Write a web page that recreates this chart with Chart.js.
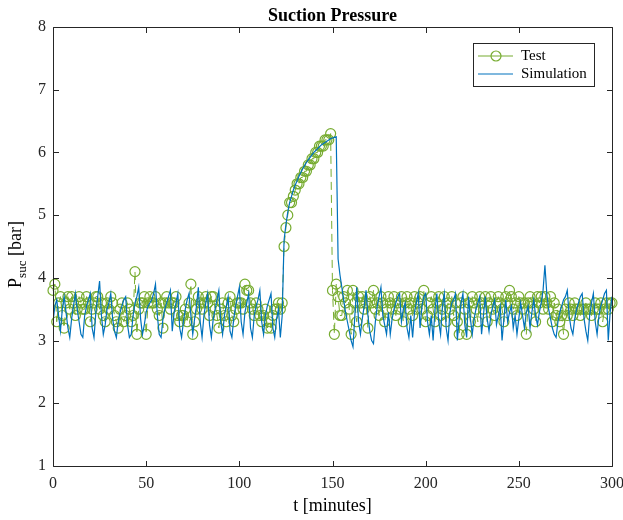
<!DOCTYPE html>
<html><head><meta charset="utf-8">
<script src="https://cdn.jsdelivr.net/npm/chart.js@4/dist/chart.umd.min.js"></script>
<style>html,body{margin:0;padding:0;background:#fff;overflow:hidden}</style>
</head><body>
<canvas id="c" width="623" height="520" style="display:block;width:623px;height:520px"></canvas>
<script>
const titleText = 'Suction Pressure';
const xTitle = 't [minutes]';
const yTitleMain = 'P';
const yTitleSub = 'suc';
const yTitleUnit = ' [bar]';
const seriesNames = ['Test', 'Simulation'];
const xTicks = [0, 50, 100, 150, 200, 250, 300];
const yTicks = [1, 2, 3, 4, 5, 6, 7, 8];
const sampleStepMinutes = 1;

const testValues = [
3.8,3.9,3.3,3.6,3.7,3.4,3.2,3.6,3.7,3.5,
3.7,3.6,3.4,3.5,3.7,3.6,3.5,3.5,3.7,3.6,
3.3,3.5,3.6,3.7,3.7,3.5,3.6,3.4,3.3,3.6,
3.5,3.7,3.6,3.4,3.3,3.2,3.5,3.6,3.3,3.4,
3.6,3.5,3.3,3.4,4.1,3.1,3.5,3.6,3.6,3.7,
3.1,3.6,3.7,3.6,3.6,3.7,3.5,3.4,3.6,3.2,
3.6,3.7,3.6,3.5,3.6,3.6,3.7,3.4,3.3,3.4,
3.4,3.5,3.3,3.6,3.9,3.1,3.3,3.5,3.7,3.6,
3.5,3.6,3.7,3.6,3.4,3.7,3.7,3.5,3.4,3.2,
3.5,3.6,3.4,3.3,3.6,3.7,3.4,3.3,3.5,3.6,
3.6,3.6,3.5,3.9,3.8,3.8,3.6,3.5,3.4,3.6,
3.5,3.4,3.3,3.4,3.5,3.2,3.3,3.2,3.4,3.5,
3.5,3.6,3.5,3.6,4.5,4.8,5.0,5.2,5.2,5.3,
5.4,5.5,5.5,5.6,5.6,5.7,5.7,5.8,5.8,5.9,
5.9,6.0,6.0,6.1,6.1,6.1,6.2,6.2,6.2,6.3,
3.8,3.1,3.9,3.7,3.4,3.4,3.7,3.6,3.8,3.5,
3.1,3.8,3.6,3.3,3.7,3.6,3.7,3.5,3.6,3.2,
3.7,3.6,3.8,3.5,3.6,3.4,3.7,3.6,3.3,3.5,
3.7,3.6,3.5,3.7,3.4,3.6,3.5,3.7,3.3,3.6,
3.7,3.5,3.6,3.4,3.7,3.5,3.6,3.7,3.5,3.8,
3.3,3.4,3.6,3.7,3.5,3.3,3.6,3.7,3.4,3.5,
3.7,3.3,3.6,3.5,3.7,3.4,3.6,3.3,3.1,3.6,
3.7,3.5,3.1,3.6,3.3,3.7,3.6,3.5,3.3,3.7,
3.6,3.5,3.7,3.3,3.6,3.7,3.5,3.4,3.6,3.7,
3.6,3.5,3.3,3.7,3.6,3.8,3.7,3.5,3.6,3.4,
3.7,3.6,3.5,3.6,3.1,3.6,3.7,3.6,3.5,3.3,
3.7,3.6,3.7,3.5,3.7,3.6,3.5,3.7,3.3,3.6,
3.4,3.5,3.3,3.4,3.1,3.5,3.4,3.6,3.5,3.4,
3.6,3.5,3.5,3.4,3.5,3.5,3.6,3.5,3.5,3.4,
3.5,3.6,3.5,3.5,3.6,3.3,3.5,3.6,3.5,3.6,
3.6
];

const simValues = [
3.30,3.55,3.65,3.40,3.15,3.50,3.70,3.45,3.20,3.05,
3.35,3.55,3.75,3.50,3.30,3.10,3.05,3.40,3.55,3.65,
3.75,3.20,3.05,3.45,3.70,3.95,3.40,3.10,3.25,3.50,
3.60,3.75,3.35,3.15,3.05,3.30,3.45,3.55,3.65,3.70,
3.25,3.05,3.10,3.40,3.60,3.70,3.85,3.35,3.10,3.25,
3.45,3.55,3.60,3.65,3.75,3.90,3.40,3.10,3.05,3.35,
3.50,3.60,3.70,3.80,3.15,3.45,3.60,3.75,3.20,3.05,
3.30,3.50,3.65,3.75,3.40,3.10,3.35,3.55,3.85,3.30,
3.05,3.40,3.60,3.75,3.25,3.05,3.35,3.50,3.65,3.80,
3.30,3.10,3.40,3.55,3.70,3.15,3.05,3.35,3.55,3.70,
3.85,3.30,3.10,3.45,3.60,3.75,3.20,3.05,3.40,3.55,
3.65,3.80,3.30,3.10,3.40,3.55,3.65,3.75,3.20,3.05,
3.35,3.50,3.05,3.40,4.60,4.85,5.05,5.20,5.30,5.40,
5.48,5.55,5.62,5.68,5.74,5.79,5.84,5.88,5.92,5.96,
6.00,6.03,6.06,6.09,6.12,6.14,6.16,6.18,6.20,6.22,
6.23,6.24,6.25,4.30,4.05,3.85,3.65,3.45,3.30,3.15,
3.00,2.90,3.40,3.85,3.30,3.10,3.35,3.55,3.80,3.40,
3.15,3.00,2.95,3.30,3.55,3.70,3.85,3.40,3.25,3.10,
3.45,3.10,3.35,3.50,3.60,3.70,3.75,3.30,3.50,3.60,
3.20,3.05,3.40,3.05,3.45,3.60,3.75,3.20,3.55,3.70,
3.75,3.30,3.10,3.40,3.00,3.50,3.75,3.30,3.10,3.55,
3.75,3.20,3.00,3.45,3.60,3.65,3.75,3.00,3.35,3.60,
3.75,3.25,3.05,3.70,3.35,3.10,3.35,3.50,3.60,3.70,
3.10,3.40,3.70,3.35,3.15,3.40,3.55,3.65,3.25,3.40,
3.55,3.00,3.35,3.65,3.30,3.45,3.55,3.20,3.40,3.10,
3.35,3.60,3.40,3.20,3.45,3.55,3.20,3.45,3.65,3.40,
3.25,3.45,3.60,3.80,4.20,3.75,3.50,3.35,3.20,3.10,
3.05,3.30,3.45,3.55,3.65,3.70,3.80,3.40,3.20,3.10,
3.35,3.50,3.60,3.70,3.75,3.35,3.15,3.00,3.40,3.60,
3.75,3.30,3.10,3.40,3.55,3.65,3.75,3.80,3.00,3.45,
3.70
];

const GREEN = '#77AC30';
const BLUE = '#0072BD';
const AXIS = '#262626';
const SERIF = '"Liberation Serif", "Times New Roman", serif';

const toPoints = arr => arr.map((v, i) => ({ x: i * sampleStepMinutes, y: v }));

const frame = {
  id: 'frame',
  afterDatasetsDraw(chart) {
    const { ctx, chartArea: a, scales: { x, y } } = chart;
    ctx.save();
    ctx.strokeStyle = AXIS;
    ctx.lineWidth = 1;
    const L = Math.round(a.left) + 0.5, R = Math.round(a.right) + 0.5;
    const T = Math.round(a.top) + 0.5, B = Math.round(a.bottom) + 0.5;
    ctx.beginPath();
    ctx.rect(L, T, R - L, B - T);
    const tl = 5.5;
    xTicks.forEach(v => {
      const px = Math.round(x.getPixelForValue(v)) + 0.5;
      ctx.moveTo(px, B); ctx.lineTo(px, B - tl);
      ctx.moveTo(px, T); ctx.lineTo(px, T + tl);
    });
    yTicks.forEach(v => {
      const py = Math.round(y.getPixelForValue(v)) + 0.5;
      ctx.moveTo(L, py); ctx.lineTo(L + tl, py);
      ctx.moveTo(R, py); ctx.lineTo(R - tl, py);
    });
    ctx.stroke();

    // y axis title with subscript
    ctx.fillStyle = '#000';
    ctx.translate(21, (a.top + a.bottom) / 2 + 8);
    ctx.rotate(-Math.PI / 2);
    ctx.textBaseline = 'alphabetic';
    const f1 = '18px ' + SERIF, f2 = '13px ' + SERIF;
    ctx.font = f1; const w1 = ctx.measureText(yTitleMain).width;
    ctx.font = f2; const w2 = ctx.measureText(yTitleSub).width;
    ctx.font = f1; const w3 = ctx.measureText(yTitleUnit).width;
    let sx = -(w1 + w2 + w3) / 2;
    ctx.font = f1; ctx.fillText(yTitleMain, sx, 0); sx += w1;
    ctx.font = f2; ctx.fillText(yTitleSub, sx, 5); sx += w2;
    ctx.font = f1; ctx.fillText(yTitleUnit, sx, 0);
    ctx.restore();

    // legend
    ctx.save();
    const bx = 473.5, by = 43.5, bw = 121, bh = 43;
    ctx.fillStyle = '#fff';
    ctx.fillRect(bx, by, bw, bh);
    ctx.strokeStyle = AXIS;
    ctx.lineWidth = 1;
    ctx.strokeRect(bx, by, bw, bh);
    ctx.lineWidth = 1.2;
    ctx.strokeStyle = GREEN;
    ctx.beginPath(); ctx.moveTo(478, 56); ctx.lineTo(513, 56); ctx.stroke();
    ctx.beginPath(); ctx.arc(496, 56, 5, 0, Math.PI * 2); ctx.stroke();
    ctx.strokeStyle = BLUE;
    ctx.beginPath(); ctx.moveTo(478, 74); ctx.lineTo(513, 74); ctx.stroke();
    ctx.fillStyle = '#000';
    ctx.font = '15px ' + SERIF;
    ctx.textBaseline = 'middle';
    ctx.fillText(seriesNames[0], 521, 56);
    ctx.fillText(seriesNames[1], 521, 74);
    ctx.restore();
  }
};

new Chart(document.getElementById('c'), {
  type: 'line',
  data: {
    datasets: [
      {
        label: seriesNames[0],
        data: toPoints(testValues),
        borderColor: GREEN,
        borderWidth: 1,
        borderDash: [8, 5],
        pointStyle: 'circle',
        pointRadius: 5,
        pointBorderWidth: 1.2,
        pointBorderColor: GREEN,
        pointBackgroundColor: 'rgba(0,0,0,0)',
        tension: 0,
        clip: false,
        order: 2
      },
      {
        label: seriesNames[1],
        data: toPoints(simValues),
        borderColor: BLUE,
        borderWidth: 1.2,
        pointRadius: 0,
        tension: 0,
        order: 1
      }
    ]
  },
  options: {
    responsive: false,
    animation: false,
    devicePixelRatio: 1,
    layout: { padding: { top: 27, right: 11, left: 0, bottom: 0 } },
    plugins: {
      legend: { display: false },
      tooltip: { enabled: false },
      title: { display: false }
    },
    scales: {
      x: {
        type: 'linear', min: 0, max: 300,
        afterBuildTicks: s => { s.ticks = xTicks.map(v => ({ value: v })); },
        afterFit: s => { s.height = 54; s.paddingLeft = 0; s.paddingRight = 0; },
        grid: { display: false, drawTicks: false },
        border: { display: false },
        ticks: { font: { family: SERIF, size: 16 }, color: AXIS, padding: 8, maxRotation: 0, autoSkip: false },
        title: { display: true, text: xTitle, font: { family: SERIF, size: 18 }, color: '#000', padding: { top: 0, bottom: 3 } }
      },
      y: {
        type: 'linear', min: 1, max: 8,
        afterBuildTicks: s => { s.ticks = yTicks.map(v => ({ value: v })); },
        afterFit: s => { s.width = 53; s.paddingTop = 0; s.paddingBottom = 0; },
        grid: { display: false, drawTicks: false },
        border: { display: false },
        ticks: { font: { family: SERIF, size: 16 }, color: AXIS, padding: 7, autoSkip: false }
      }
    }
  },
  plugins: [frame, {
    id: 'maintitle',
    afterDraw(chart) {
      const { ctx, chartArea: a } = chart;
      ctx.save();
      ctx.fillStyle = '#000';
      ctx.font = 'bold 18px ' + SERIF;
      ctx.textAlign = 'center';
      ctx.textBaseline = 'alphabetic';
      ctx.fillText(titleText, (a.left + a.right) / 2, 21);
      ctx.restore();
    }
  }]
});
</script>
</body></html>
